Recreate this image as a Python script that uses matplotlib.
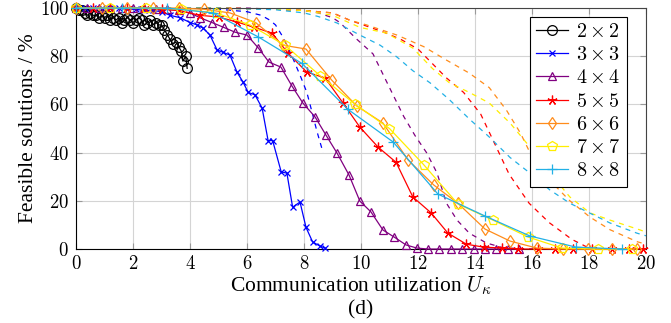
import numpy as np
import matplotlib.pyplot as plt

plt.rcParams['font.family'] = ['Liberation Serif', 'DejaVu Serif']
plt.rcParams['mathtext.fontset'] = 'cm'

labels = [r'$2\times2$', r'$3\times3$', r'$4\times4$', r'$5\times5$',
          r'$6\times6$', r'$7\times7$', r'$8\times8$']
colors = ['black', '#0000ff', '#800080', '#ff0000', '#ff8c1a', '#ffee00', '#22b0e6']
markers = ['o', 'x', '^', (5, 2, 0), 'd', 'p', '+']
sizes = [7, 5, 6, 7, 6, 7, 7.5]

# solid series (with markers)
x22 = [0.0, 0.1, 0.2, 0.3, 0.4, 0.5, 0.6, 0.7, 0.8, 0.9, 1.0, 1.1, 1.2, 1.3, 1.4, 1.5,
       1.6, 1.7, 1.8, 1.9, 2.0, 2.1, 2.2, 2.3, 2.4, 2.5, 2.6, 2.7, 2.8, 2.9, 3.0, 3.1,
       3.2, 3.3, 3.4, 3.5, 3.6, 3.7, 3.75, 3.85, 3.9]
y22 = [100, 99, 99, 98, 97, 98, 97, 97, 96, 97, 96, 97, 95, 96, 95, 96,
       94, 95, 96, 95, 94, 95, 96, 95, 93, 94, 95, 93, 94, 93, 93, 91,
       89, 87, 85, 86, 84, 82, 78, 80, 75]
x33 = [0, 0.3, 0.6, 0.9, 1.2, 1.5, 1.8, 2.1, 2.4, 2.7, 3.0, 3.3, 3.65, 4.0, 4.25, 4.46,
       4.7, 4.95, 5.15, 5.4, 5.65, 5.86, 6.04, 6.28, 6.53, 6.74, 6.9, 7.2, 7.4, 7.6,
       7.86, 8.07, 8.3, 8.56, 8.74]
y33 = [100, 100, 100, 100, 100, 100, 99.5, 99.5, 99, 99, 98.5, 97, 96, 94, 93, 91.7,
       88.8, 82.6, 81.7, 80.5, 73.4, 69.3, 65, 64, 58.5, 45, 45, 32, 31.5, 17.4,
       19.5, 9, 3, 1.2, 0.4]
x44 = [0, 0.4, 0.8, 1.2, 1.6, 2.0, 2.4, 2.8, 3.2, 3.6, 4.0, 4.35, 4.77, 5.18, 5.58,
       6.0, 6.4, 6.77, 7.19, 7.58, 7.96, 8.39, 8.77, 9.16, 9.58, 9.96, 10.35, 10.77,
       11.16, 11.58, 11.96, 12.35, 12.75, 13.15, 13.55, 13.95, 14.35, 14.75, 15.15, 15.55]
y44 = [100, 100, 100, 100, 100, 100, 100, 99.5, 99.5, 99, 98, 96, 94, 92, 90,
       88.8, 83.4, 77.6, 75.5, 67.6, 60.6, 54.8, 47.3, 39.8, 30.7, 19.9, 15.4, 7.9,
       5, 1.7, 0.4, 0, 0, 0, 0, 0, 0, 0, 0, 0]
x55 = [0, 0.6, 1.2, 1.8, 2.4, 3.0, 3.6, 4.35, 5.0, 5.65, 6.26, 6.88, 7.44, 8.1, 8.74,
       9.37, 9.96, 10.6, 11.23, 11.82, 12.46, 13.05, 13.7, 14.3, 14.95, 15.5, 16.2,
       16.8, 17.44, 18.1, 18.8, 19.4, 19.9]
y55 = [100, 100, 100, 100, 100, 99.5, 99, 97, 96.3, 94.2, 92, 89.6, 81.3, 73.4, 71,
       60.6, 50.6, 42.3, 36, 21.6, 15, 6.6, 2, 0.8, 0.4, 0, 0, 0, 0, 0, 0, 0, 0]
x66 = [0, 0.9, 1.8, 2.7, 3.6, 4.5, 5.4, 6.3, 7.27, 8.07, 8.98, 9.86, 10.77, 11.65,
       12.56, 13.4, 14.35, 15.23, 16.17, 17.1, 17.96, 18.8, 19.7]
y66 = [100, 100, 100, 100, 100, 99.5, 98, 94, 84.6, 83, 70, 59.3, 52.3, 37,
       26.5, 19, 8.3, 3.3, 0.4, 0, 0, 0, 0]
x77 = [0, 1.2, 2.45, 3.7, 4.9, 6.1, 7.33, 8.56, 9.8, 11.0, 12.2, 13.4, 14.63, 15.86,
       17.05, 18.3, 19.5]
y77 = [100, 100, 100, 99.5, 98, 93, 84.6, 72, 60, 50, 35, 18.7, 12, 5, 0.4, 0, 0]
x88 = [0, 1.6, 3.2, 4.8, 6.4, 7.93, 9.54, 11.13, 12.7, 14.35, 15.93, 17.54, 19.16]
y88 = [100, 100, 100, 98, 88, 77, 58, 44.4, 22.8, 13.7, 5.4, 0.8, 0]

# dashed series (no markers)
xd33 = [0, 2, 4, 5, 6, 6.5, 6.8, 7.0, 7.26, 7.58, 7.9, 8.1, 8.3, 8.45, 8.67]
yd33 = [100, 100, 100, 99.5, 98.5, 97, 95, 93, 88, 80, 71, 65, 56, 49, 40]
xd44 = [0, 4, 6, 7, 8, 8.5, 9, 9.26, 9.6, 9.86, 10.42, 11.0, 11.5, 11.9, 12.3, 12.67,
        13.0, 13.37, 13.8, 14.4, 15.0, 16, 20]
yd44 = [100, 100, 100, 99.5, 99, 98, 96, 94, 90, 87, 81, 67, 55, 47, 40, 31.5,
        19, 12, 6.6, 2.5, 0.5, 0, 0]
xd55 = [0, 5, 7, 8, 9, 9.6, 10.2, 10.8, 11.4, 12, 12.5, 13, 13.6, 14.2, 14.6, 15.2,
        15.9, 16.6, 17.4, 17.9, 18.5, 20]
yd55 = [100, 100, 99.5, 99, 98, 95, 92.5, 90, 87, 83, 77, 71, 65, 56, 46, 31,
        19, 11, 4, 1, 0, 0]
xd66 = [0, 5, 7, 8, 9, 9.6, 10.2, 11.26, 12.2, 13.0, 13.8, 14.5, 15.1, 15.6, 15.93,
        16.5, 17.33, 18.03, 18.74, 19.7, 20]
yd66 = [100, 100, 99.5, 99, 98, 95, 93, 88.8, 84, 78.4, 73, 67, 57.7, 48, 40,
        30, 20, 13.3, 8, 3, 2]
xd77 = [0, 5, 7, 8, 9, 9.96, 10.9, 11.82, 12.5, 13.1, 13.8, 14.5, 15.23, 15.93, 16.63,
        17.33, 18.03, 18.74, 19.8, 20]
yd77 = [100, 100, 99.5, 99, 97, 92, 89.6, 83.4, 75, 69, 65, 60.6, 52.3, 42.3, 31.5,
        21.6, 15, 12, 7.9, 7]
xd88 = [0, 5, 7, 8, 8.5, 9.16, 9.96, 10.67, 11.26, 11.82, 12.42, 13.1, 13.8, 14.5,
        15.23, 15.93, 16.63, 17.33, 18.03, 18.74, 19.68, 20]
yd88 = [100, 100, 99.3, 98, 96.5, 93.8, 88.8, 84.6, 79.7, 74, 69, 62, 54, 46.5,
        38, 31.5, 24.5, 19, 14.9, 10.8, 6.6, 5.5]

solid = [(x22, y22), (x33, y33), (x44, y44), (x55, y55), (x66, y66), (x77, y77), (x88, y88)]
dashed = [None, (xd33, yd33), (xd44, yd44), (xd55, yd55), (xd66, yd66), (xd77, yd77), (xd88, yd88)]

fig = plt.figure(figsize=(6.71, 3.23), dpi=100)
ax = fig.add_axes([0.1133, 0.229, 0.8494, 0.746])

for i in range(len(labels)):
    if dashed[i] is not None:
        ax.plot(dashed[i][0], dashed[i][1], color=colors[i], lw=0.9,
                ls=(0, (4, 4)), clip_on=False, zorder=2)
for i in range(len(labels)):
    filled = markers[i] in ('x', '+') or isinstance(markers[i], tuple)
    ax.plot(solid[i][0], solid[i][1], color=colors[i], lw=0.9, marker=markers[i],
            ms=sizes[i], mew=0.9, mfc=colors[i] if filled else 'none',
            label=labels[i], clip_on=False, zorder=3)

ax.set_xlim(0, 20)
ax.set_ylim(0, 100)
ax.set_xticks(np.arange(0, 21, 2))
ax.set_yticks(np.arange(0, 101, 20))
ax.set_xticklabels([r'$%d$' % v for v in range(0, 21, 2)])
ax.set_yticklabels([r'$%d$' % v for v in range(0, 101, 20)])
ax.tick_params(direction='in', length=4, color='#999999', labelsize=13.5,
               top=True, right=True)
ax.tick_params(axis='x', pad=4)
ax.tick_params(axis='y', pad=5)
ax.grid(True, color='#d4d4d4', lw=0.8)
ax.set_axisbelow(True)
for s in ax.spines.values():
    s.set_color('#444444')
    s.set_linewidth(0.8)
ax.spines['left'].set_color('black')
ax.spines['bottom'].set_color('black')

ax.set_ylabel('Feasible solutions / %', fontsize=15.5, labelpad=1)
ax.set_xlabel(r'Communication utilization $U_\kappa$', fontsize=15.5, labelpad=1)
fig.text(0.5367, 0.012, '(d)', ha='center', va='bottom', fontsize=15.5)

leg = ax.legend(loc='upper right', bbox_to_anchor=(0.9667, 0.9627),
                borderaxespad=0, fontsize=14.5, frameon=True, fancybox=False,
                edgecolor='black', framealpha=1, handlelength=1.6,
                labelspacing=0.2, handletextpad=0.4, borderpad=0.3)
leg.get_frame().set_linewidth(0.8)

fig.savefig('out.png', dpi=100)
